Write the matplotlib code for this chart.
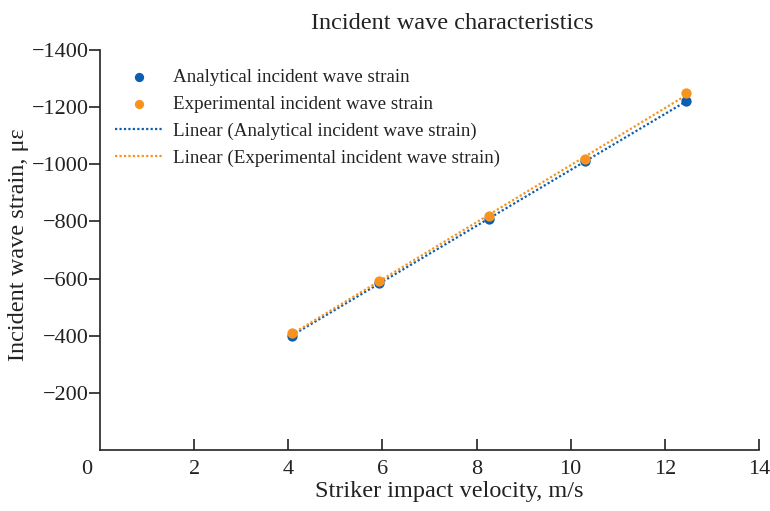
import matplotlib
matplotlib.use("Agg")
import matplotlib.pyplot as plt
import matplotlib.transforms as mtransforms
import numpy as np

plt.rcParams['font.family'] = ['Liberation Serif', 'DejaVu Serif']

velocity = [4.07, 5.93, 8.27, 10.30, 12.45]
analytical = [-400, -583, -810, -1010, -1220]
experimental = [-408, -592, -820, -1020, -1248]
xticks = [0, 2, 4, 6, 8, 10, 12, 14]
yticks = [-200, -400, -600, -800, -1000, -1200, -1400]

blue = '#0d5eae'
orange = '#f7931e'
txt = '#222222'

fig = plt.figure(figsize=(7.7, 5.11), dpi=100)
ax = fig.add_axes([0.1299, 0.1194, 0.8558, 0.7828])

ax.scatter(velocity, analytical, color=blue, s=55, zorder=3, linewidths=0,
           label='Analytical incident wave strain')
ax.scatter(velocity, experimental, color=orange, s=55, zorder=4, linewidths=0,
           label='Experimental incident wave strain')

xs = np.array([min(velocity), max(velocity)])
pa = np.polyfit(velocity, analytical, 1)
pe = np.polyfit(velocity, experimental, 1)
ax.plot(xs, np.polyval(pa, xs), linestyle=(0, (1, 1)), color=blue, lw=1.6,
        zorder=2, label='Linear (Analytical incident wave strain)')
ax.plot(xs, np.polyval(pe, xs), linestyle=(0, (1, 1)), color=orange, lw=1.6,
        zorder=2, label='Linear (Experimental incident wave strain)')

ax.set_xlim(0, 14)
ax.set_ylim(0, -1400)
ax.set_xticks(xticks)
ax.set_yticks(yticks)
ax.spines['top'].set_visible(False)
ax.spines['right'].set_visible(False)
ax.spines['left'].set_linewidth(1.2)
ax.spines['bottom'].set_linewidth(1.2)
ax.spines['left'].set_color(txt)
ax.spines['bottom'].set_color(txt)
ax.tick_params(axis='x', direction='in', length=8, width=1.2, labelsize=16, pad=7, colors=txt)
ax.tick_params(axis='y', direction='out', length=8, width=1.2, labelsize=16, pad=0, colors=txt)
# shift the "0" x tick label slightly left like the reference
lbl0 = ax.get_xticklabels()[0]
offset = mtransforms.ScaledTranslation(-13/100, 0, fig.dpi_scale_trans)
lbl0.set_transform(lbl0.get_transform() + offset)
ax.xaxis.get_major_ticks()[0].tick1line.set_visible(False)

ax.set_xlabel('Striker impact velocity, m/s', fontsize=17.5, color=txt, labelpad=2, x=0.53)
ax.set_ylabel('Incident wave strain, με', fontsize=17.5, color=txt, labelpad=2, y=0.514)
ax.set_title('Incident wave characteristics', fontsize=17.5, color=txt, pad=15, x=0.534)

leg = ax.legend(loc='upper left', bbox_to_anchor=(0.011, 0.972), frameon=False,
                fontsize=13.7, handlelength=2.5, handletextpad=0.55,
                labelspacing=0.5, borderaxespad=0, markerscale=0.9)
for t in leg.get_texts():
    t.set_color(txt)

fig.savefig('out.png', dpi=100)
